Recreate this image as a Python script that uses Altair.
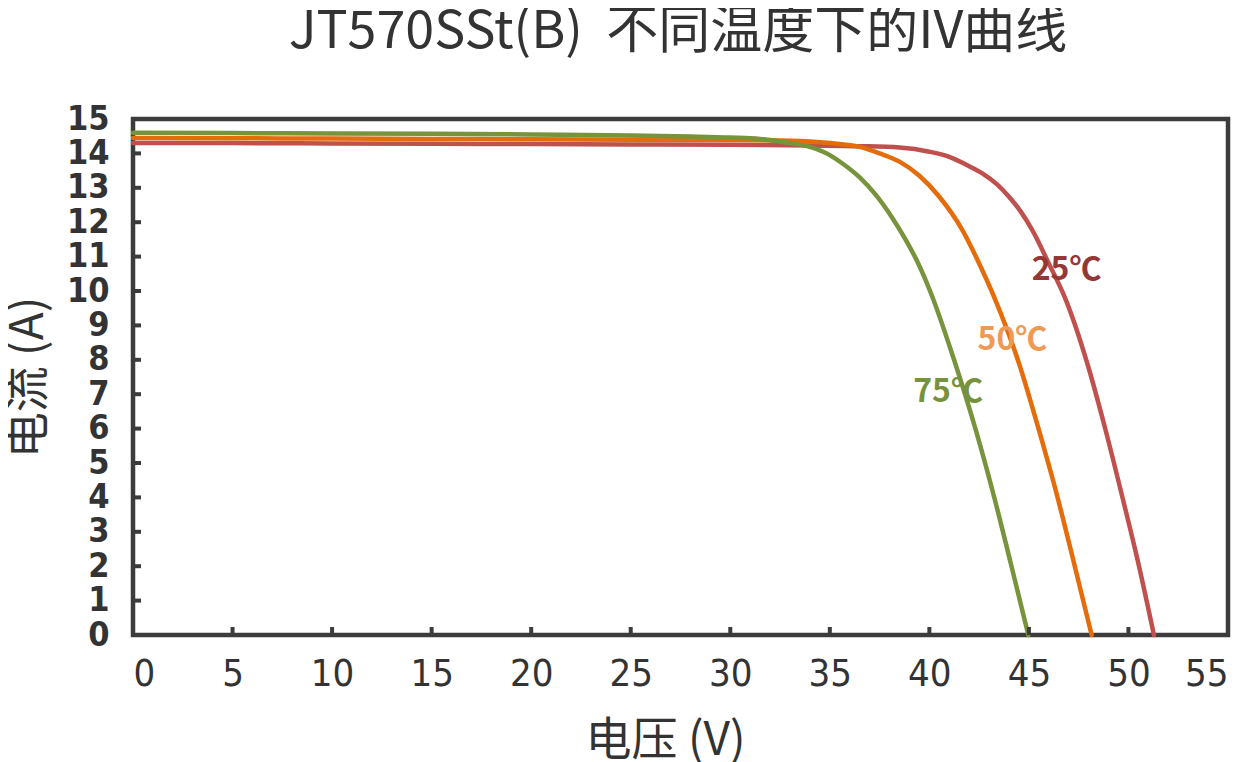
import altair as alt
import pandas as pd

# ---- data ----
v_25 = [0, 5, 10, 15, 20, 25, 30, 34, 36.5, 38.5, 40, 41, 42, 42.66, 43.4, 44, 44.6, 45.17, 46.0, 46.85, 47.93, 48.85, 49.69, 50.53, 51.28]
i_25 = [14.3, 14.3, 14.29, 14.28, 14.27, 14.26, 14.25, 14.23, 14.21, 14.17, 14.05, 13.9, 13.63, 13.42, 13.1, 12.74, 12.3, 11.77, 10.8, 9.75, 7.9, 5.96, 4.02, 2.0, 0]

v_50 = [0, 5, 10, 15, 20, 25, 30, 33.1, 35, 36.5, 37.5, 38.5, 39.5, 40.5, 41.66, 42.5, 43.25, 44.5, 45.5, 46.43, 47.27, 48.15]
i_50 = [14.45, 14.44, 14.43, 14.42, 14.41, 14.4, 14.39, 14.37, 14.3, 14.19, 14.0, 13.76, 13.35, 12.74, 11.77, 10.8, 9.83, 7.9, 5.96, 4.02, 2.08, 0]

v_75 = [0, 5, 10, 15, 20, 25, 28, 30, 31.5, 33, 34, 35, 35.6, 36.5, 37.3, 38.1, 38.8, 39.4, 40.07, 41.24, 42.33, 43.25, 44.09, 44.97]
i_75 = [14.6, 14.59, 14.58, 14.57, 14.55, 14.52, 14.49, 14.46, 14.42, 14.3, 14.19, 13.95, 13.72, 13.3, 12.8, 12.16, 11.5, 10.85, 9.95, 8.0, 5.96, 4.02, 2.08, 0]

series_names = ["25℃", "50℃", "75℃"]
line_colors = ["#C0504D", "#E46C0A", "#77933C"]
label_colors = ["#953735", "#EE9A55", "#76923C"]
label_v = [46.89, 44.17, 40.94]
label_i = [10.61, 8.58, 7.07]

x_ticks = [0, 5, 10, 15, 20, 25, 30, 35, 40, 45, 50, 55]
y_ticks = list(range(0, 16))

title_text = ["JT570SSt(B)\u00a0\u00a0不同温度下的IV曲线"]
x_title = "电压 (V)"
y_title = "电流 (A)"

# ---- tables ----
rows = []
for name, vs, is_ in zip(series_names, [v_25, v_50, v_75], [i_25, i_50, i_75]):
    for k, (v, i) in enumerate(zip(vs, is_)):
        rows.append({"series": name, "V": v, "I": i, "order": k})
curves = pd.DataFrame(rows)
labels = pd.DataFrame({"series": series_names, "V": label_v, "I": label_i, "c": label_colors})
xt = pd.DataFrame({"V": x_ticks[1:-1]})
yt = pd.DataFrame({"I": y_ticks[1:-1]})
tt = pd.DataFrame({"t": title_text})

W, H = 1095, 516
AXIS_COLOR = "#3C3C3C"
NUM_FONT = "DejaVu Sans Condensed, DejaVu Sans, sans-serif"
CJK_FONT = "Noto Sans CJK SC"

xscale = alt.Scale(domain=[0, 55], nice=False, zero=False)
yscale = alt.Scale(domain=[0, 15], nice=False, zero=False)

x_axis = alt.Axis(values=x_ticks, title=x_title, domain=False, ticks=False, grid=False,
                  labelFont=NUM_FONT, labelFontSize=38, labelColor="#333333",
                  labelPadding=20, labelOverlap=False,
                  titleFont=CJK_FONT, titleFontSize=46,
                  titleFontWeight="normal", titleColor="#333333", titlePadding=25,
                  titleX=532)
y_axis = alt.Axis(values=y_ticks, title=y_title, domain=False, ticks=False, grid=False,
                  labelFont=NUM_FONT, labelFontSize=34, labelFontWeight="bold",
                  labelColor="#333333", labelPadding=24, labelBaseline="middle",
                  labelOverlap=False,
                  titleFont=CJK_FONT, titleFontSize=46, titleFontWeight="normal",
                  titleColor="#333333", titlePadding=14)

lines = alt.Chart(curves).mark_line(strokeWidth=4.5, interpolate="monotone", strokeCap="round").encode(
    x=alt.X("V:Q", scale=xscale, axis=x_axis),
    y=alt.Y("I:Q", scale=yscale, axis=y_axis),
    color=alt.Color("series:N", scale=alt.Scale(domain=series_names, range=line_colors), legend=None),
    order="order:Q",
)

texts = alt.Chart(labels).mark_text(font=CJK_FONT, fontSize=32, fontWeight="bold").encode(
    x=alt.X("V:Q", scale=xscale, axis=x_axis),
    y=alt.Y("I:Q", scale=yscale, axis=y_axis),
    text="series:N",
    color=alt.Color("c:N", scale=None),
)

xtick_marks = alt.Chart(xt).mark_rule(strokeWidth=4, color=AXIS_COLOR).encode(
    x=alt.X("V:Q", scale=xscale, axis=x_axis), y=alt.value(H), y2=alt.value(H - 8)
)
ytick_marks = alt.Chart(yt).mark_rule(strokeWidth=4, color=AXIS_COLOR).encode(
    y=alt.Y("I:Q", scale=yscale, axis=y_axis), x=alt.value(0), x2=alt.value(8)
)

title_mark = alt.Chart(tt).mark_text(
    font=CJK_FONT, fontSize=52, fontWeight="normal", color="#333333",
    align="center", baseline="alphabetic"
).encode(text="t:N", x=alt.value(545), y=alt.value(-71))

chart = alt.layer(lines, texts, xtick_marks, ytick_marks, title_mark).properties(
    width=W, height=H,
    autosize=alt.AutoSizeParams(type="none"),
    padding={"left": 125, "top": 111, "right": 4, "bottom": 127},
).configure(
    background="white",
    view=alt.ViewConfig(stroke=AXIS_COLOR, strokeWidth=4.5),
)

chart.save("out.html", embed_options={"renderer": "svg", "actions": False})
